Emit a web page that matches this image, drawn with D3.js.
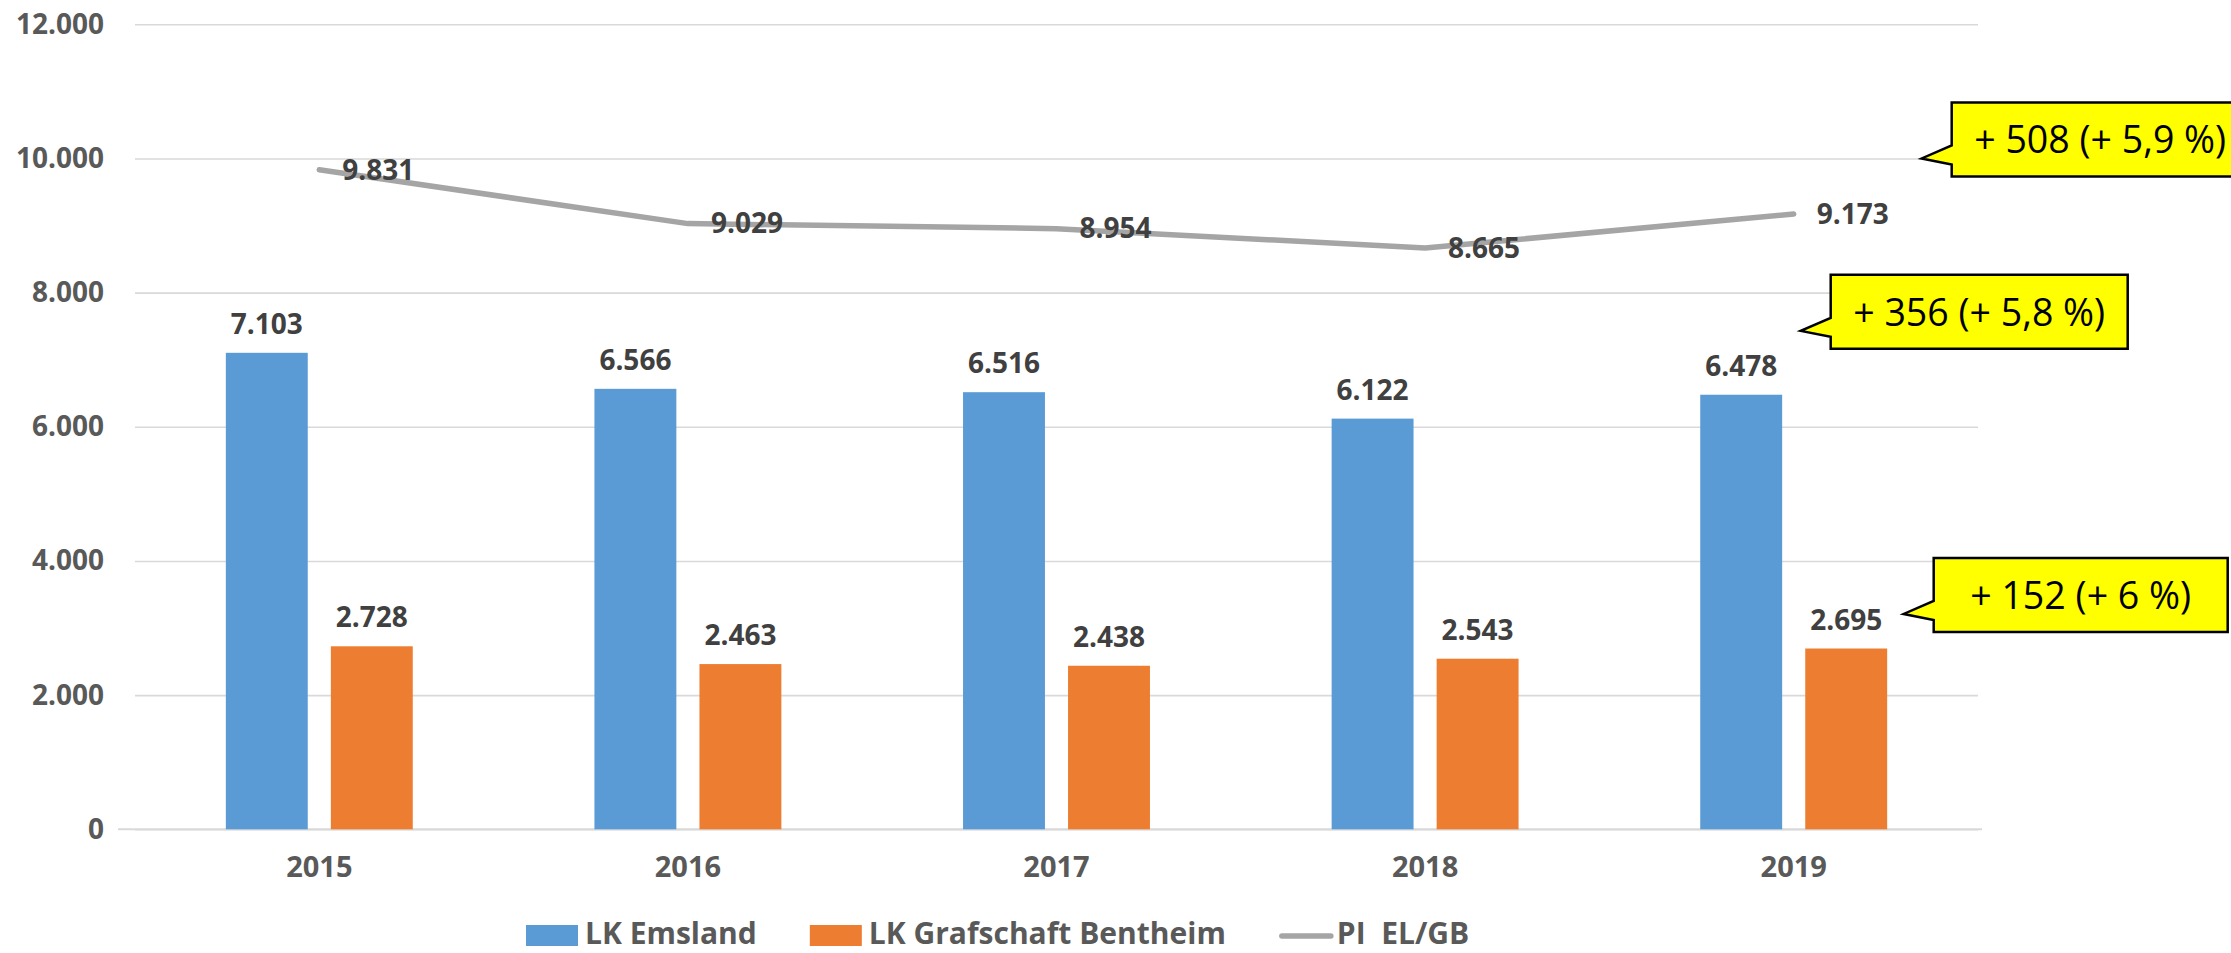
<!DOCTYPE html>
<html>
<head>
<meta charset="utf-8">
<script src="https://cdn.jsdelivr.net/npm/d3@7"></script>
<style>
body { margin: 0; background: #fff; overflow: hidden; }
svg { display: block; font-family: "Open Sans", sans-serif; }
</style>
</head>
<body>
<div id="chart"></div>
<script>
// values
const years = ['2015', '2016', '2017', '2018', '2019']
const emsland = [7103, 6566, 6516, 6122, 6478]
const bentheim = [2728, 2463, 2438, 2543, 2695]
const piElGb = [9831, 9029, 8954, 8665, 9173]
const yTicks = [0, 2000, 4000, 6000, 8000, 10000, 12000]
const seriesNames = ['LK Emsland', 'LK Grafschaft Bentheim', 'PI  EL/GB']
const calloutTexts = ['+ 508 (+ 5,9 %)', '+ 356 (+ 5,8 %)', '+ 152 (+ 6 %)']
const calloutAnchors = [10000, 7430, 3210]

const width = 2231
const height = 953
const margin = { top: 24.3, right: 253, bottom: 123.7, left: 135 }
const innerWidth = width - margin.left - margin.right
const innerHeight = height - margin.top - margin.bottom
const font = '"Open Sans", sans-serif'

const blue = '#5B9BD5'
const orange = '#ED7D31'
const grey = '#A5A5A5'

const de = d3.formatLocale({ decimal: ',', thousands: '.', grouping: [3], currency: ['', ' €'] })
const fmt = de.format(',d')

const svg = d3.select('#chart').append('svg')
  .attr('width', width)
  .attr('height', height)

const g = svg.append('g')
  .attr('transform', `translate(${margin.left},${margin.top})`)

const xScale = d3.scaleBand()
  .domain(years)
  .range([0, innerWidth])
  .padding(0)

const xInner = d3.scaleBand()
  .domain(['em', 'gb'])
  .range([0, xScale.bandwidth()])
  .paddingInner(0.22)
  .paddingOuter(0.865)

const yScale = d3.scaleLinear()
  .domain([0, 12000])
  .range([innerHeight, 0])

// y axis + gridlines
const yAxis = d3.axisLeft(yScale)
  .tickValues(yTicks)
  .tickFormat(fmt)
  .tickSize(-innerWidth)
  .tickPadding(31)

const yAxisGroup = g.append('g').call(yAxis)
  .attr('font-family', font)
yAxisGroup.select('.domain').remove()
yAxisGroup.selectAll('line')
  .attr('stroke', '#D9D9D9')
  .attr('stroke-width', 1.6)
yAxisGroup.selectAll('text')
  .attr('fill', '#595959')
  .attr('font-size', 28)
  .attr('font-weight', 700)

// category axis line
g.append('line')
  .attr('x1', -17).attr('x2', innerWidth + 4)
  .attr('y1', yScale(0)).attr('y2', yScale(0))
  .attr('stroke', '#D9D9D9')
  .attr('stroke-width', 2)

const xAxis = d3.axisBottom(xScale)
  .tickSize(0)
  .tickPadding(27)
const xAxisGroup = g.append('g')
  .attr('transform', `translate(0,${innerHeight})`)
  .call(xAxis)
  .attr('font-family', font)
xAxisGroup.select('.domain').remove()
xAxisGroup.selectAll('text')
  .attr('fill', '#595959')
  .attr('font-size', 29)
  .attr('font-weight', 700)

// bars
const barSeries = [
  { key: 'em', values: emsland, color: blue },
  { key: 'gb', values: bentheim, color: orange }
]

barSeries.forEach(s => {
  const grp = g.append('g')
  grp.selectAll('rect')
    .data(years)
    .enter()
    .append('rect')
    .attr('x', (d, i) => xScale(d) + xInner(s.key))
    .attr('y', (d, i) => yScale(s.values[i]))
    .attr('width', xInner.bandwidth())
    .attr('height', (d, i) => innerHeight - yScale(s.values[i]))
    .attr('fill', s.color)

  grp.selectAll('text')
    .data(years)
    .enter()
    .append('text')
    .text((d, i) => fmt(s.values[i]))
    .attr('x', (d, i) => xScale(d) + xInner(s.key) + xInner.bandwidth() / 2)
    .attr('y', (d, i) => yScale(s.values[i]) - 19)
    .attr('text-anchor', 'middle')
    .attr('fill', '#404040')
    .attr('font-size', 28)
    .attr('font-weight', 700)
})

// line
const cx = d => xScale(d) + xScale.bandwidth() / 2
const line = d3.line()
  .x((d, i) => cx(years[i]))
  .y(d => yScale(d))

g.append('path')
  .datum(piElGb)
  .attr('d', line)
  .attr('fill', 'none')
  .attr('stroke', grey)
  .attr('stroke-width', 5.5)
  .attr('stroke-linecap', 'round')
  .attr('stroke-linejoin', 'round')

g.append('g').selectAll('text')
  .data(piElGb)
  .enter()
  .append('text')
  .text(d => fmt(d))
  .attr('x', (d, i) => cx(years[i]) + 23)
  .attr('y', d => yScale(d))
  .attr('dy', '0.35em')
  .attr('fill', '#404040')
  .attr('font-size', 28)
  .attr('font-weight', 700)

// callouts next to 2019
const tipDx = [128, 7, 110]
const boxW = [297, 297, 294]
const textW = [252, 252, 221]
const callouts = svg.append('g')
calloutTexts.forEach((t, i) => {
  const tipX = margin.left + cx('2019') + tipDx[i]
  const tipY = margin.top + yScale(calloutAnchors[i])
  const left = tipX + 30
  const top = tipY - 56
  const right = left + boxW[i]
  const bottom = top + 74
  callouts.append('path')
    .attr('d', `M${left},${top} H${right} V${bottom} H${left} V${top + 62} L${tipX},${tipY} L${left},${top + 43} Z`)
    .attr('fill', '#FFFF00')
    .attr('stroke', '#000')
    .attr('stroke-width', 2.5)
    .attr('stroke-linejoin', 'miter')
  callouts.append('text')
    .text(t)
    .attr('x', (left + right) / 2)
    .attr('y', top + 37)
    .attr('dy', '0.35em')
    .attr('text-anchor', 'middle')
    .attr('fill', '#000')
    .attr('font-size', 39)
    .attr('textLength', textW[i])
    .attr('lengthAdjust', 'spacingAndGlyphs')
})

// legend
const legend = svg.append('g').attr('transform', 'translate(526,944)')
let lx = 0
seriesNames.forEach((name, i) => {
  if (i < 2) {
    legend.append('rect')
      .attr('x', lx).attr('y', -19)
      .attr('width', 52).attr('height', 21)
      .attr('fill', i === 0 ? blue : orange)
  } else {
    legend.append('line')
      .attr('x1', lx + 3).attr('x2', lx + 52)
      .attr('y1', -8).attr('y2', -8)
      .attr('stroke', grey)
      .attr('stroke-width', 5.5)
      .attr('stroke-linecap', 'round')
  }
  const txt = legend.append('text')
    .text(name)
    .attr('x', lx + (i < 2 ? 59 : 58))
    .attr('y', 0)
    .attr('fill', '#595959')
    .attr('font-size', 30)
    .attr('font-weight', 700)
    .style('white-space', 'pre')
  lx += (i < 2 ? 59 : 58) + txt.node().getComputedTextLength() + 53
})
</script>
</body>
</html>
